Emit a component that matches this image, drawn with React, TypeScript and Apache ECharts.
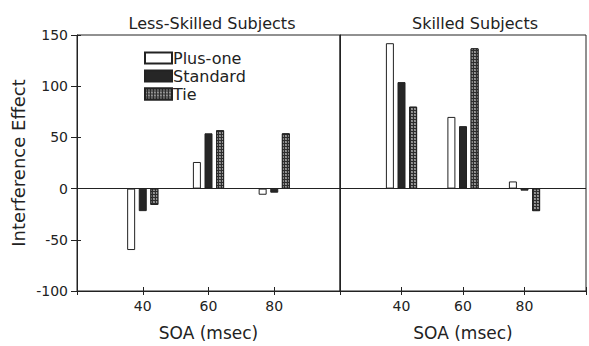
import React, { useEffect, useRef } from "react";
import * as echarts from "echarts";

const soaValues = [40, 60, 80];
const yTickRange = { min: -100, max: 150, interval: 50 };
const xTickRange = { min: 20, max: 100, interval: 20 };

const lessPlusOne = [-60, 26, -6];
const lessStandard = [-22, 54, -4];
const lessTie = [-16, 57, 54];

const skilledPlusOne = [142, 70, 7];
const skilledStandard = [104, 61, -2];
const skilledTie = [80, 137, -22];

const panelTitles = ["Less-Skilled Subjects", "Skilled Subjects"];
const seriesNames = ["Plus-one", "Standard", "Tie"];

const FONT = "DejaVu Sans";
const INK = "#222";

export default function App() {
  const ref = useRef<HTMLDivElement>(null);

  useEffect(() => {
    if (!ref.current) return;
    const chart = echarts.init(ref.current, null, { renderer: "svg" });

    const pair = (arr: number[]) => soaValues.map((x, i) => [x, arr[i]]);

    const styles = [
      { color: "#fff", borderColor: INK, borderWidth: 1 },
      { color: "#262626", borderColor: INK, borderWidth: 1 },
      {
        color: "#2e2e2e",
        borderColor: INK,
        borderWidth: 1,
        decal: {
          symbol: "circle",
          symbolSize: 0.75,
          color: "rgba(255,255,255,0.9)",
          backgroundColor: "#2e2e2e",
          dashArrayX: [2, 1],
          dashArrayY: [2, 1],
          rotation: 0,
        },
      },
    ];

    const makeSeries = (gridIdx: number, arrs: number[][]) =>
      arrs.map((arr, k) => ({
        type: "bar",
        name: seriesNames[k],
        xAxisIndex: gridIdx * 2,
        yAxisIndex: gridIdx * 2,
        data: pair(arr),
        barWidth: 8,
        barGap: "45%",
        itemStyle: styles[k],
        emphasis: { disabled: true },
        markLine:
          k === 0
            ? {
                silent: true,
                symbol: "none",
                label: { show: false },
                lineStyle: { color: INK, width: 1, type: "solid" },
                data: [{ yAxis: 0 }],
              }
            : undefined,
      }));

    const xAxisMain = (gridIndex: number) => ({
      type: "value",
      gridIndex,
      ...xTickRange,
      position: "bottom",
      name: "SOA (msec)",
      nameLocation: "middle",
      nameGap: 33,
      nameTextStyle: { fontFamily: FONT, fontSize: 17, color: INK },
      axisLine: { show: true, onZero: false, lineStyle: { color: INK, width: 1 } },
      axisTick: { show: true, inside: false, length: 4, lineStyle: { color: INK } },
      axisLabel: {
        show: true,
        margin: 8,
        fontFamily: FONT,
        fontSize: 14,
        color: INK,
        formatter: (v: number) => (soaValues.includes(v) ? String(v) : ""),
      },
      splitLine: { show: false },
    });
    const xAxisInner = (gridIndex: number) => ({
      type: "value",
      gridIndex,
      ...xTickRange,
      position: "bottom",
      axisLine: { show: false, onZero: false },
      axisTick: { show: true, inside: true, length: 4, lineStyle: { color: INK } },
      axisLabel: { show: false },
      splitLine: { show: false },
    });

    const option = {
      animation: false,
      backgroundColor: "#fff",
      textStyle: { fontFamily: FONT },
      title: [
        {
          text: panelTitles[0],
          left: 207,
          top: 10,
          textAlign: "center",
          textStyle: { fontFamily: FONT, fontSize: 16, fontWeight: "normal", color: INK },
        },
        {
          text: panelTitles[1],
          left: 470,
          top: 10,
          textAlign: "center",
          textStyle: { fontFamily: FONT, fontSize: 16, fontWeight: "normal", color: INK },
        },
      ],
      legend: {
        orient: "vertical",
        left: 144,
        top: 50,
        padding: 0,
        icon: "rect",
        itemWidth: 27,
        itemHeight: 11,
        itemGap: 2,
        selectedMode: false,
        data: seriesNames,
        textStyle: { fontFamily: FONT, fontSize: 16, color: INK, padding: [0, 0, 0, -4] },
      },
      grid: [
        { left: 77, right: 249, top: 35, bottom: 49, show: true, borderColor: INK, borderWidth: 1, backgroundColor: "transparent" },
        { left: 340, right: -14, top: 35, bottom: 49, show: true, borderColor: INK, borderWidth: 1, backgroundColor: "transparent" },
      ],
      xAxis: [xAxisMain(0), xAxisInner(0), xAxisMain(1), xAxisInner(1)],
      yAxis: [
        {
          type: "value",
          gridIndex: 0,
          ...yTickRange,
          position: "left",
          name: "Interference Effect",
          nameLocation: "middle",
          nameGap: 50,
          nameTextStyle: { fontFamily: FONT, fontSize: 18, color: INK },
          axisLine: { show: true, onZero: false, lineStyle: { color: INK } },
          axisTick: { show: true, inside: false, length: 6, lineStyle: { color: INK } },
          axisLabel: { margin: 9, fontFamily: FONT, fontSize: 14, color: INK },
          splitLine: { show: false },
        },
        {
          type: "value",
          gridIndex: 0,
          ...yTickRange,
          position: "left",
          axisLine: { show: false, onZero: false },
          axisTick: { show: true, inside: true, length: 4, lineStyle: { color: INK } },
          axisLabel: { show: false },
          splitLine: { show: false },
        },
        {
          type: "value",
          gridIndex: 1,
          ...yTickRange,
          position: "left",
          axisLine: { show: true, onZero: false, lineStyle: { color: INK } },
          axisTick: { show: false },
          axisLabel: { show: false },
          splitLine: { show: false },
        },
        {
          type: "value",
          gridIndex: 1,
          ...yTickRange,
          position: "left",
          axisLine: { show: false, onZero: false },
          axisTick: { show: false },
          axisLabel: { show: false },
          splitLine: { show: false },
        },
      ],
      series: [
        ...makeSeries(0, [lessPlusOne, lessStandard, lessTie]),
        ...makeSeries(1, [skilledPlusOne, skilledStandard, skilledTie]),
      ],
    };

    chart.setOption(option as any);
    return () => chart.dispose();
  }, []);

  return (
    <div
      ref={ref}
      style={{ position: "fixed", left: 0, top: 0, width: 589, height: 346, background: "#fff" }}
    />
  );
}
